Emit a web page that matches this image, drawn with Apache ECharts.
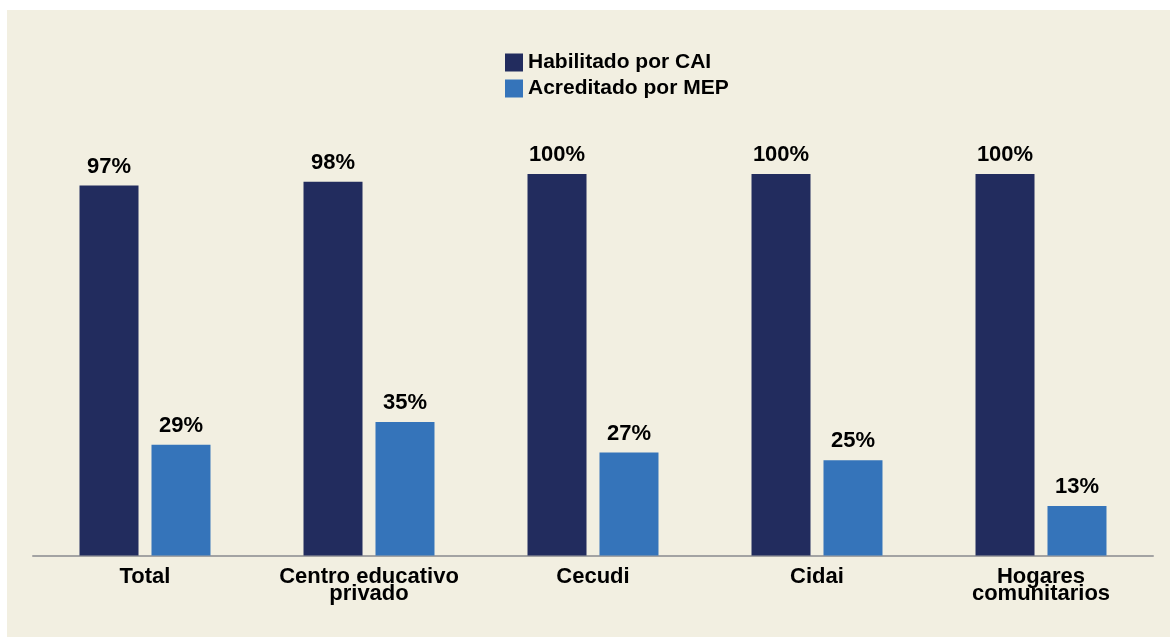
<!DOCTYPE html>
<html>
<head>
<meta charset="utf-8">
<script src="https://cdn.jsdelivr.net/npm/echarts@6/dist/echarts.min.js"></script>
<style>
html,body{margin:0;padding:0;background:#ffffff;}
#wrap{position:absolute;left:7px;top:10px;width:1163px;height:627px;background:#F2EFE1;}
#chart{width:1163px;height:627px;}
</style>
</head>
<body>
<div id="wrap"><div id="chart"></div></div>
<script>
var categories = ['Total', 'Centro educativo\nprivado', 'Cecudi', 'Cidai', 'Hogares\ncomunitarios'];
var seriesNames = ['Habilitado por CAI', 'Acreditado por MEP'];
var habilitado = [97, 98, 100, 100, 100];
var acreditado = [29, 35, 27, 25, 13];

var FONT = '"Liberation Sans", Arial, Helvetica, sans-serif';
var chart = echarts.init(document.getElementById('chart'), null, {renderer: 'canvas'});
var labelStyle = {
  show: true, position: 'top', distance: 8,
  formatter: '{c}%', color: '#000000', fontFamily: FONT, fontWeight: 'bold', fontSize: 22
};
chart.setOption({
  backgroundColor: 'transparent',
  animation: false,
  legend: {
    orient: 'vertical',
    left: 498, top: 42, padding: 0,
    itemWidth: 18, itemHeight: 18, itemGap: 5,
    icon: 'rect',
    textStyle: {color: '#000000', fontFamily: FONT, fontWeight: 'bold', fontSize: 21, lineHeight: 18, padding: [0, 0, 0, 0]},
    data: seriesNames
  },
  grid: {left: 26, right: 17, top: 164, bottom: 81.5, containLabel: false},
  xAxis: {
    type: 'category',
    data: categories,
    axisLine: {lineStyle: {color: '#A3A3A3', width: 2}},
    axisTick: {show: false},
    axisLabel: {color: '#000000', fontFamily: FONT, fontWeight: 'bold', fontSize: 22, lineHeight: 17, margin: 13, interval: 0}
  },
  yAxis: {
    type: 'value', min: 0, max: 100, show: false,
    splitLine: {show: false}
  },
  series: [
    {name: seriesNames[0], type: 'bar', data: habilitado, barWidth: 59, barGap: '22%',
     itemStyle: {color: '#222C5E'}, label: labelStyle},
    {name: seriesNames[1], type: 'bar', data: acreditado, barWidth: 59, barGap: '22%',
     itemStyle: {color: '#3574BA'}, label: labelStyle}
  ]
});
</script>
</body>
</html>
